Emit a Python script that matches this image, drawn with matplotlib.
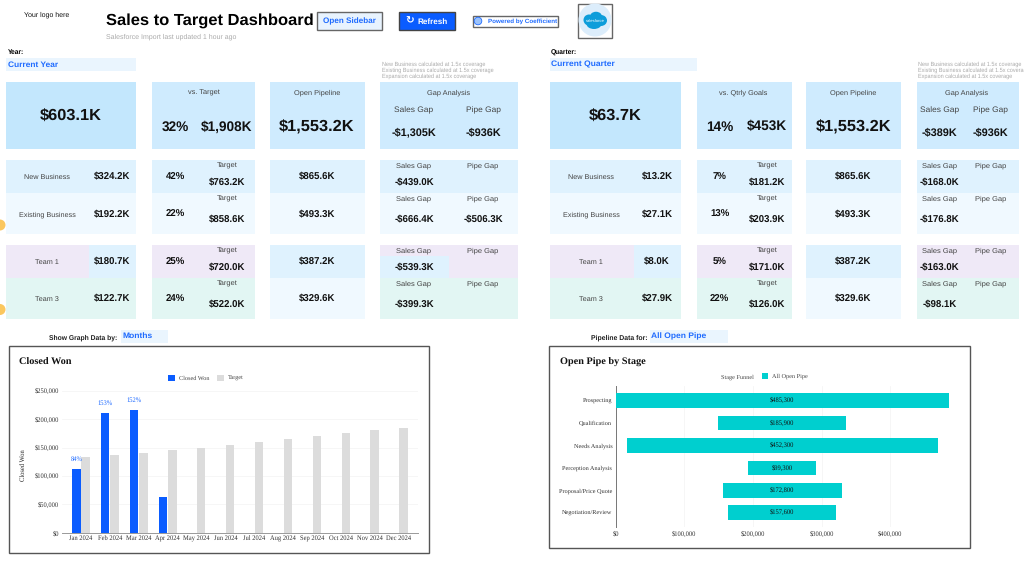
import matplotlib
matplotlib.use('Agg')
import matplotlib.pyplot as plt
from matplotlib.patches import Rectangle, Circle, Ellipse, Wedge

plt.rcParams['text.hinting'] = 'none'

# Closed Won chart
months = ['Jan 2024', 'Feb 2024', 'Mar 2024', 'Apr 2024', 'May 2024', 'Jun 2024',
          'Jul 2024', 'Aug 2024', 'Sep 2024', 'Oct 2024', 'Nov 2024', 'Dec 2024']
closed_won = [112500, 210000, 215400, 63700, 0, 0, 0, 0, 0, 0, 0, 0]
target = [133000, 137000, 141000, 145000, 150000, 155000, 160000, 165000, 170000, 175000, 180000, 185000]
pct_labels = ['84%', '153%', '152%']

# Open pipe funnel chart
stages = ['Prospecting', 'Qualification', 'Needs Analysis', 'Perception Analysis',
          'Proposal/Price Quote', 'Negotiation/Review']
open_pipe = [485300, 185900, 452300, 99300, 172800, 157600]

# KPI text, one list per block
row_labels = ['New Business', 'Existing Business', 'Team 1', 'Team 3']

year_top = ['$603.1K', 'vs. Target', '32%', '$1,908K', '$1,553.2K', '-$1,305K', '-$936K']
year_values = ['$324.2K', '$192.2K', '$180.7K', '$122.7K']
year_pct = ['42%', '22%', '25%', '24%']
year_targets = ['$763.2K', '$858.6K', '$720.0K', '$522.0K']
year_pipe = ['$865.6K', '$493.3K', '$387.2K', '$329.6K']
year_sales_gap = ['-$439.0K', '-$666.4K', '-$539.3K', '-$399.3K']
year_pipe_gap = ['', '-$506.3K', '', '']

qtr_top = ['$63.7K', 'vs. Qtrly Goals', '14%', '$453K', '$1,553.2K', '-$389K', '-$936K']
qtr_values = ['$13.2K', '$27.1K', '$8.0K', '$27.9K']
qtr_pct = ['7%', '13%', '5%', '22%']
qtr_targets = ['$181.2K', '$203.9K', '$171.0K', '$126.0K']
qtr_pipe = ['$865.6K', '$493.3K', '$387.2K', '$329.6K']
qtr_sales_gap = ['-$168.0K', '-$176.8K', '-$163.0K', '-$98.1K']
qtr_pipe_gap = ['', '', '', '']

coverage_notes = ['New Business calculated at 1.5x coverage',
                  'Existing Business calculated at 1.5x coverage',
                  'Expansion calculated at 1.5x coverage']

SANS = 'Liberation Sans'
SERIF = 'Liberation Serif'
BLUE = '#0a5cff'
LINK = '#1f6bff'
TOP_MAIN = '#c3e7fd'
TOP = '#cfebfe'
ROW_BLUE = '#dff2fe'
ROW_PALE = '#f0f9ff'
ROW_PURPLE = '#efe9f7'
ROW_TEAL = '#e2f6f3'
INPUT = '#eaf5fe'
TEXT = '#111111'
SOFT = '#444444'
NOTE = '#aaaaaa'

W, H = 1024, 576
fig = plt.figure(figsize=(W / 100, H / 100), dpi=100)

# page layer in pixel coordinates, y down
page = fig.add_axes([0, 0, 1, 1])
page.set_xlim(0, W)
page.set_ylim(H, 0)
page.axis('off')


def box(x0, y0, x1, y1, color, edge='none', lw=0):
    page.add_patch(Rectangle((x0, y0), x1 - x0, y1 - y0, facecolor=color, edgecolor=edge, linewidth=lw))


def label(x, y, s, size, color=TEXT, weight='normal', ha='center', family=SANS):
    # y is the middle of the capitals, so descenders do not shift the text
    page.text(x, y + 0.5 * size, s, fontsize=size, color=color, fontweight=weight, ha=ha, va='baseline',
              family=family)


def draw_block(cols, top, values, pct, targets, pipe, sales_gap, pipe_gap, teams_blue_gap):
    # cols: box edges and text centres of one Year / Quarter block
    m0, m1, p0, p1, o0, o1, g0, g1 = cols['edges']
    top_y0, top_y1 = 81.7, 149

    box(m0, top_y0, m1, top_y1, TOP_MAIN)
    box(p0, top_y0, p1, top_y1, TOP)
    box(o0, top_y0, o1, top_y1, TOP)
    box(g0, top_y0, g1, top_y1, TOP)

    label(cols['main'], 114.5, top[0], 11.8, weight='bold')
    label(cols['vs'], 92, top[1], 5.3, SOFT)
    label(cols['pct'], 125.5, top[2], 9.8, weight='bold')
    label(cols['target'], 125.5, top[3], 9.8, weight='bold')
    label(cols['pipe'], 92, 'Open Pipeline', 5.3, SOFT)
    label(cols['pipe'], 125.5, top[4], 11.8, weight='bold')
    label(cols['gap'], 92, 'Gap Analysis', 5.3, SOFT)
    label(cols['sales'], 109, 'Sales Gap', 6, SOFT)
    label(cols['pipegap'], 109, 'Pipe Gap', 6, SOFT)
    label(cols['sales'], 131.5, top[5], 7.8, weight='bold')
    label(cols['pipegap'], 131.5, top[6], 7.8, weight='bold')

    for i, note in enumerate(coverage_notes):
        label(g0 + 1.5, 63.6 + i * 6.3, note, 3.97, NOTE, ha='left')

    # rows: edges, row fill, pipeline fill, y of label / target / value
    rows = [(160, 193.3, ROW_BLUE, ROW_BLUE, 176, 165.3, 181.7),
            (193.3, 234, ROW_PALE, ROW_PALE, 213.7, 198.3, 219),
            (245, 278.3, ROW_PURPLE, ROW_BLUE, 261, 250.3, 266.7),
            (278.3, 319, ROW_TEAL, ROW_PALE, 298.3, 283.3, 304)]

    for i, (y0, y1, fill, pipe_fill, y_mid, y_head, y_val) in enumerate(rows):
        box(m0, y0, m1, y1, fill)
        box(p0, y0, p1, y1, fill)
        box(o0, y0, o1, y1, pipe_fill)
        box(g0, y0, g1, y1, fill)
        if i == 2:
            box(cols['team_split'], y0, m1, y1, ROW_BLUE)
            if teams_blue_gap:
                box(g0, 256.3, cols['gap_split'], y1, ROW_BLUE)

        label(cols['label'], y_mid, row_labels[i], 5.25, SOFT)
        label(cols['value'], y_mid, values[i], 6.9, weight='bold')
        label(cols['pct'], y_mid, pct[i], 6.9, weight='bold')
        label(cols['target'], y_head, 'Target', 5.4, SOFT)
        label(cols['target'], y_val, targets[i], 6.9, weight='bold')
        label(cols['pipe'], y_mid, pipe[i], 6.9, weight='bold')
        label(cols['sales'], y_head, 'Sales Gap', 5.4, SOFT)
        label(cols['pipegap'], y_head, 'Pipe Gap', 5.4, SOFT)
        label(cols['sales'], y_val, sales_gap[i], 6.9, weight='bold')
        if pipe_gap[i]:
            label(cols['pipegap'], y_val, pipe_gap[i], 6.9, weight='bold')


# header
label(47, 14.5, 'Your logo here', 5)
label(106, 19, 'Sales to Target Dashboard', 11.85, '#000000', 'bold', ha='left')
label(106, 35.7, 'Salesforce Import last updated 1 hour ago', 5, NOTE, ha='left')

box(316.5, 12, 382, 29.5, '#e8f3fe', '#666666', 1)
label(349, 20.7, 'Open Sidebar', 5.9, LINK, 'bold')
box(398.5, 12, 455, 29.5, BLUE, '#444444', 1)
page.text(409.5, 20.7, '\u21bb', fontsize=7.5, color='white', fontweight='bold', ha='center', va='center',
          family='DejaVu Sans')
label(432.5, 20.7, 'Refresh', 5.9, 'white', 'bold')
box(472.5, 15.5, 558, 26.5, 'white', '#666666', 1)
page.add_patch(Circle((478, 21), 3.8, facecolor='#9cc3fb', edgecolor=LINK, linewidth=0.6))
label(487.5, 20.7, 'Powered by Coefficient', 4.5, LINK, 'bold', ha='left')

# salesforce logo
box(577.5, 3.5, 612, 38, 'white', '#666666', 1)
page.add_patch(Circle((595, 20), 16.5, facecolor='#dcedfb', edgecolor='none'))
for cx, cy, rx, ry in [(589, 20, 11, 11), (596, 16.5, 12, 9.5), (601, 20.5, 12, 11), (594, 24, 15, 10)]:
    page.add_patch(Ellipse((cx, cy), rx, ry, facecolor='#0d9dda', edgecolor='none'))
label(595, 20.7, 'salesforce', 3, 'white')

# selectors
label(8, 52, 'Year:', 4.8, '#000000', 'bold', ha='left')
box(6, 58, 136, 70.5, INPUT)
label(8, 63.5, 'Current Year', 6.05, LINK, 'bold', ha='left')
label(550.5, 52, 'Quarter:', 4.8, '#000000', 'bold', ha='left')
box(550, 58, 696.5, 70.5, INPUT)
label(551, 63.5, 'Current Quarter', 6.1, LINK, 'bold', ha='left')

year_cols = dict(edges=(6, 136, 152, 255, 270, 365, 380, 518),
                 main=71, vs=203.5, pct=175, target=227, pipe=317, gap=448.7,
                 sales=414, pipegap=483, label=47.3, value=112,
                 team_split=89.3, gap_split=449)
qtr_cols = dict(edges=(549.7, 681, 696.7, 791.7, 806.3, 901, 917, 1019),
                main=615, vs=743.3, pct=719.7, target=767, pipe=853.3, gap=967,
                sales=939.7, pipegap=990.7, label=591.3, value=657,
                team_split=634, gap_split=990)

draw_block(year_cols, year_top, year_values, year_pct, year_targets, year_pipe,
           year_sales_gap, year_pipe_gap, True)
draw_block(qtr_cols, qtr_top, qtr_values, qtr_pct, qtr_targets, qtr_pipe,
           qtr_sales_gap, qtr_pipe_gap, False)

# orange shapes peeking in at the left edge
page.add_patch(Wedge((0, 225), 5.5, -90, 90, facecolor='#fbc75e', edgecolor='none'))
page.add_patch(Wedge((0, 309.5), 5.5, -90, 90, facecolor='#fbc75e', edgecolor='none'))

label(48.7, 336.7, 'Show Graph Data by:', 4.9, '#222222', 'bold', ha='left')
box(120.7, 330, 168, 342.7, INPUT)
label(122, 335.3, 'Months', 6.1, LINK, 'bold', ha='left')
label(590.7, 336.7, 'Pipeline Data for:', 4.95, '#222222', 'bold', ha='left')
box(650, 330, 728, 342.7, INPUT)
label(651, 335.3, 'All Open Pipe', 6.1, LINK, 'bold', ha='left')

# chart frames
box(8.5, 345.5, 428.5, 552.5, 'white', '#555555', 1)
box(549, 345.5, 969.5, 547.5, 'white', '#555555', 1)
label(19.3, 361, 'Closed Won', 7.4, '#111111', 'bold', ha='left', family=SERIF)
label(559.7, 361, 'Open Pipe by Stage', 7.4, '#111111', 'bold', ha='left', family=SERIF)


def px_axes(left, top, right, bottom):
    a = fig.add_axes([left / W, 1 - bottom / H, (right - left) / W, (bottom - top) / H])
    a.patch.set_alpha(0)
    for s in a.spines.values():
        s.set_visible(False)
    a.tick_params(length=0, labelsize=4.7, labelcolor='#333333')
    return a


# Closed Won columns
ax = px_axes(62, 390.7, 418, 532.7)
xs = list(range(len(months)))
bars_won = ax.bar([x - 0.16 for x in xs], closed_won, width=0.29, color=BLUE, label='Closed Won', zorder=3)
ax.bar([x + 0.16 for x in xs], target, width=0.29, color='#dcdcdc', label='Target', zorder=3)
ax.set_xlim(-0.657, 11.66)
ax.set_ylim(0, 250000)
ax.set_xticks(xs, months, family=SERIF, va='baseline')
ax.set_yticks(range(0, 250001, 50000), ['$0', '$50,000', '$100,000', '$150,000', '$200,000', '$250,000'],
              family=SERIF)
ax.tick_params(axis='x', pad=5.5)
ax.tick_params(axis='y', pad=2)
ax.grid(axis='y', color='#f5f5f5', linewidth=0.6, zorder=0)
ax.spines['bottom'].set_visible(True)
ax.spines['bottom'].set_color('#999999')
ax.spines['bottom'].set_linewidth(0.7)
ax.set_ylabel('Closed Won', family=SERIF, fontsize=4.7, color='#222222')
ax.yaxis.set_label_coords(-0.1, 0.477)
for bar, txt in zip(bars_won, pct_labels):
    ax.annotate(txt, (bar.get_x() + bar.get_width() / 2, bar.get_height()), xytext=(0, 7.2),
                textcoords='offset points', ha='center', va='center', fontsize=4.7, color=LINK, family=SERIF)
ax.legend(loc='center', bbox_to_anchor=(0.404, 1.09), ncol=2, frameon=False,
          prop={'family': SERIF, 'size': 4.5}, handlelength=1.1, handleheight=1.1,
          columnspacing=1.25, handletextpad=0.6, labelcolor='#444444')

# Open pipe funnel, each bar centred on the widest stage
ax2 = px_axes(615.7, 386, 959, 526.7)
ys = list(range(len(stages)))
widest = max(open_pipe)
lefts = [(widest - v) / 2 for v in open_pipe]
bars_pipe = ax2.barh(ys, open_pipe, left=lefts, height=0.655, color='#00cfcf', label='All Open Pipe', zorder=3)
ax2.set_xlim(0, 500000)
ax2.set_ylim(5.625, -0.656)
ax2.set_yticks(ys, stages, family=SERIF, fontsize=4.5)
ax2.set_xticks(range(0, 400001, 100000), ['$0', '$100,000', '$200,000', '$300,000', '$400,000'],
               family=SERIF, va='baseline')
ax2.tick_params(axis='y', pad=2.5)
ax2.tick_params(axis='x', pad=6.3)
ax2.grid(axis='x', color='#f5f5f5', linewidth=0.6, zorder=0)
ax2.spines['left'].set_visible(True)
ax2.spines['left'].set_color('#777777')
ax2.spines['left'].set_linewidth(0.7)
ax2.bar_label(bars_pipe, labels=[f'${v:,}' for v in open_pipe], label_type='center',
              fontsize=4.7, color='#111111', family=SERIF, zorder=4)
ax2.legend(loc='center', bbox_to_anchor=(0.4925, 1.071), frameon=False, prop={'family': SERIF, 'size': 4.5},
           handlelength=1.1, handleheight=1.1, handletextpad=0.6, labelcolor='#444444')
label(721, 376, 'Stage Funnel', 4.5, '#444444', ha='left', family=SERIF)

fig.savefig('out.png', dpi=100)
